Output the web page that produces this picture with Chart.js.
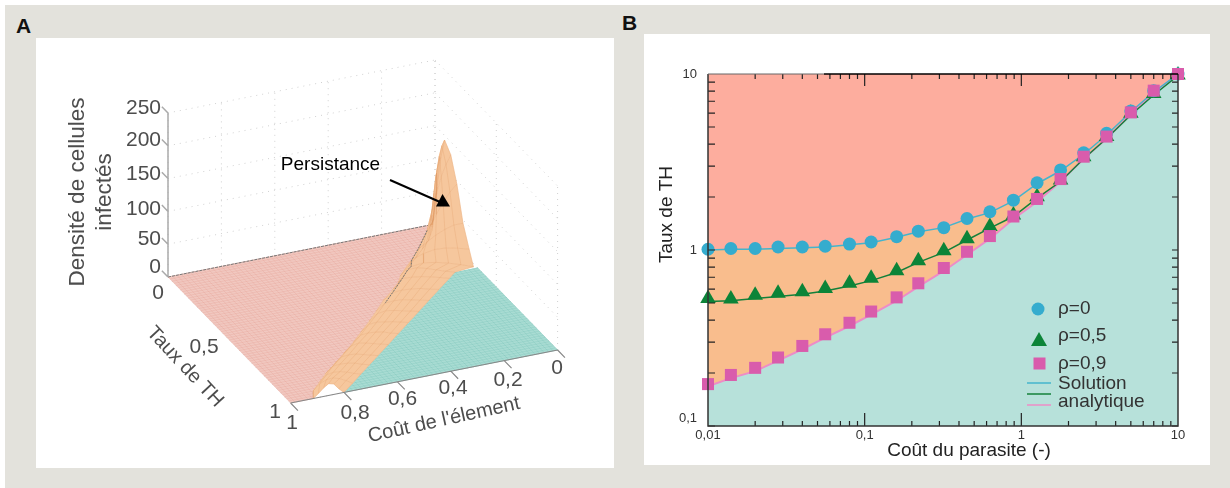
<!DOCTYPE html>
<html lang="fr">
<head>
<meta charset="utf-8">
<title>Persistance</title>
<style>
  html, body { margin: 0; padding: 0; background: #fff; overflow: hidden; }
  body { width: 1230px; height: 488px; position: relative; font-family: "Liberation Sans", sans-serif; }
  #fond { position: absolute; left: 5px; top: 5px; width: 1225px; height: 483px; background: #e3e2dc; }
  .lettre { position: absolute; font-weight: bold; font-size: 21px; color: #111; line-height: 1; }
  canvas { position: absolute; background: #fff; filter: blur(0.4px); }
</style>
</head>
<body>
<div id="fond"></div>
<div class="lettre" style="left:16px;top:15px">A</div>
<div class="lettre" style="left:622px;top:12px">B</div>
<canvas id="chartA" width="578" height="430" style="left:36px;top:38px"></canvas>
<canvas id="chartB" width="566" height="431" style="left:644px;top:34px"></canvas>
<script src="https://cdn.jsdelivr.net/npm/chart.js@4"></script>
<script>
'use strict';

// Panneau B : cout du parasite / taux de TH
const coutParasite = [0.01, 0.014, 0.02, 0.028, 0.04, 0.056, 0.08, 0.11, 0.16, 0.22, 0.32, 0.45, 0.63, 0.89, 1.26, 1.78, 2.5, 3.5, 5, 7, 10];
const rho0 = [1.01, 1.02, 1.02, 1.04, 1.04, 1.05, 1.08, 1.11, 1.19, 1.28, 1.34, 1.51, 1.65, 1.92, 2.41, 2.85, 3.57, 4.6, 6.17, 8.04, 10];
const rho05 = [0.53, 0.527, 0.553, 0.568, 0.579, 0.605, 0.647, 0.69, 0.762, 0.869, 0.99, 1.16, 1.36, 1.58, 2.01, 2.5, 3.39, 4.41, 5.98, 7.76, 9.87];
const rho09 = [0.173, 0.195, 0.214, 0.245, 0.285, 0.332, 0.386, 0.447, 0.538, 0.647, 0.79, 0.977, 1.2, 1.55, 1.95, 2.53, 3.39, 4.41, 6.05, 8.04, 10];
const analytique0 = [1.0, 1.01, 1.01, 1.02, 1.03, 1.04, 1.07, 1.1, 1.18, 1.27, 1.34, 1.5, 1.63, 1.9, 2.38, 2.82, 3.5, 4.5, 6.1, 7.9, 10];
const analytique05 = [0.51, 0.515, 0.53, 0.545, 0.56, 0.585, 0.625, 0.67, 0.745, 0.85, 0.97, 1.14, 1.33, 1.55, 1.97, 2.45, 3.3, 4.3, 5.85, 7.6, 9.8];
const analytique09 = [0.168, 0.187, 0.205, 0.235, 0.273, 0.318, 0.37, 0.43, 0.515, 0.62, 0.76, 0.94, 1.16, 1.5, 1.88, 2.45, 3.3, 4.3, 5.9, 7.85, 10];
const decadesX = [0.01, 0.1, 1, 10];
const decadesY = [0.1, 1, 10];
const mineurs = [2, 3, 4, 5, 6, 7, 8, 9];

// Panneau A : surface (une ligne par taux de TH, 7 stations de la limite rose a la limite verte)
const ticksDensite = [0, 50, 100, 150, 200, 250];
const ticksCout = [1, 0.8, 0.6, 0.4, 0.2, 0];
const ticksTaux = [0, 0.5, 1];
const surfaceTaux = [0, 0.015, 0.04, 0.07, 0.10, 0.15, 0.20, 0.25, 0.30, 0.335, 0.346, 0.38, 0.44, 0.50, 0.56, 0.62, 0.68, 0.74, 0.80, 0.85, 0.90, 0.95, 1];
const surfaceCoutRose = [0.02, 0.017, 0.03, 0.05, 0.07, 0.116, 0.164, 0.214, 0.268, 0.29, 0.296, 0.332, 0.396, 0.449, 0.504, 0.562, 0.619, 0.682, 0.745, 0.80, 0.846, 0.893, 0.915];
const surfaceCoutVert = [0.01, 0.01, 0.01, 0.01, 0.01, 0.01, 0.01, 0.01, 0.01, 0.01, 0.084, 0.121, 0.187, 0.253, 0.318, 0.384, 0.45, 0.515, 0.581, 0.636, 0.691, 0.745, 0.80];
const surfaceDensite = [
  [0, 0, 0, 0, 0, 0, 0],
  [0, 3, 7, 10, 13, 17, 20],
  [0, 14, 28, 40, 50, 58, 65],
  [0, 30, 60, 85, 100, 110, 116],
  [0, 35, 70, 100, 125, 140, 148],
  [0, 27, 55, 80, 105, 122, 135],
  [0, 25, 42, 60, 76, 90, 100],
  [0, 23, 32, 40, 46, 50, 50],
  [0, 21, 27, 30, 29, 25, 20],
  [0, 19, 21, 18, 13, 7, 0],
  [0, 18, 18, 14, 9, 4, 0],
  [0, 14, 13, 11, 8, 4, 0],
  [0, 9, 10, 9, 7, 3, 0],
  [0, 9, 10, 9, 6, 3, 0],
  [0, 9, 11, 9, 6, 3, 0],
  [0, 9, 10, 8, 6, 3, 0],
  [0, 9, 10, 9, 7, 3, 0],
  [0, 9, 11, 9, 6, 3, 0],
  [0, 9, 10, 9, 6, 3, 0],
  [0, 9, 10, 9, 7, 3, 0],
  [0, 9, 11, 10, 7, 3, 0],
  [0, 9, 13, 14, 11, 6, 0],
  [0, 6, 13, 18, 16, 7, 0]
];

const POLICE = '"Liberation Sans", sans-serif';

// projection de la vue 3D vers les coordonnees de la page
function projette(cout, taux, densite) {
  const s = 1 - cout;
  return {
    x: 168 + 267 * s + 122.6 * taux,
    y: 277 - 53 * s + 126 * taux - 0.656 * (densite || 0)
  };
}

function interp(v, xs, ys) {
  for (let i = 1; i < xs.length; i++) {
    if (v <= xs[i]) {
      const f = (v - xs[i - 1]) / (xs[i] - xs[i - 1]);
      return ys[i - 1] + f * (ys[i] - ys[i - 1]);
    }
  }
  return ys[ys.length - 1];
}

const TROU = { x: NaN, y: NaN };
const segment = (a, b) => [a, b, TROU];

function trait(data, couleur, largeur, tirets) {
  return { data, borderColor: couleur, borderWidth: largeur, borderDash: tirets || [], fill: false, showLine: true, pointRadius: 0, tension: 0 };
}

function aplat(data, couleur) {
  return { data, backgroundColor: couleur, borderColor: couleur, borderWidth: 0.6, fill: 'shape', showLine: true, pointRadius: 0, tension: 0 };
}

// quadrillage en pointilles des parois du fond
const pointilles = [];
ticksDensite.forEach(d => {
  pointilles.push(...segment(projette(1, 0, d), projette(0, 0, d)));
  pointilles.push(...segment(projette(0, 0, d), projette(0, 1, d)));
});
ticksCout.forEach(c => {
  pointilles.push(...segment(projette(c, 0, 0), projette(c, 0, 250)));
  pointilles.push(...segment(projette(c, 0, 0), projette(c, 1, 0)));
});
ticksTaux.forEach(t => {
  pointilles.push(...segment(projette(0, t, 0), projette(0, t, 250)));
  pointilles.push(...segment(projette(1, t, 0), projette(0, t, 0)));
});

// sol rose et sol vert
const tauxVert = surfaceTaux.slice(10);
const coutVert = surfaceCoutVert.slice(10);
const solRose = [projette(1, 0), ...surfaceTaux.map((t, i) => projette(surfaceCoutRose[i], t)), projette(1, 1)];
const solVert = [projette(0, 0.345), projette(0, 1), ...tauxVert.map((t, i) => projette(coutVert[coutVert.length - 1 - i], tauxVert[tauxVert.length - 1 - i]))];

// maillage fin du sol
const mailleRose = [];
const mailleVert = [];
const DIVISIONS = 60;
for (let i = 0; i <= DIVISIONS; i++) {
  const u = i / DIVISIONS;
  mailleRose.push(...segment(projette(interp(u, surfaceTaux, surfaceCoutRose), u), projette(1, u)));
  if (u >= 0.345) mailleVert.push(...segment(projette(0, u), projette(interp(u, tauxVert, coutVert), u)));
  if (u >= 0.02 && u <= 0.915) mailleRose.push(...segment(projette(u, 0), projette(u, interp(u, surfaceCoutRose.slice(2), surfaceTaux.slice(2)))));
  else if (u > 0.915) mailleRose.push(...segment(projette(u, 0), projette(u, 1)));
  if (u <= 0.8) mailleVert.push(...segment(projette(u, u < 0.084 ? 0.345 : interp(u, coutVert, tauxVert)), projette(u, 1)));
}

// bandes de la surface orange, du fond vers l'avant
function stationsDe(r) {
  return surfaceDensite[r].map((d, k) => {
    const f = k / 6;
    return projette(surfaceCoutRose[r] + f * (surfaceCoutVert[r] - surfaceCoutRose[r]), surfaceTaux[r], d);
  });
}
const bandes = [];
const mailleOrange = [];
for (let r = 0; r < surfaceTaux.length; r++) {
  const ligne = stationsDe(r);
  mailleOrange.push(...ligne, TROU);
  if (r > 0) {
    const avant = stationsDe(r - 1);
    bandes.push(aplat([...avant, ...ligne.slice().reverse()], '#f6c79d'));
    ligne.forEach((p, k) => mailleOrange.push(...segment(avant[k], p)));
  }
}
const crete = surfaceTaux.map((t, r) => stationsDe(r)[1]).slice(5, 14);

// axes de la vue 3D
const axesTraits = [...segment(projette(1, 1), projette(0, 1))];
ticksCout.forEach(c => axesTraits.push(...segment(projette(c, 1), projette(c, 1.06))));
const axeDensite = [...segment(projette(1, 0, 0), projette(1, 0, 250))];
ticksDensite.forEach(d => axeDensite.push(...segment(projette(1, 0, d), projette(1, -0.05, d))));

const textesA = {
  id: 'textesA',
  afterDatasetsDraw(chart) {
    const { ctx, scales: { x, y } } = chart;
    const ecrit = (texte, px, py, taille, angle, couleur) => {
      ctx.save();
      ctx.translate(x.getPixelForValue(px), y.getPixelForValue(py));
      ctx.rotate((angle || 0) * Math.PI / 180);
      ctx.font = taille + 'px ' + POLICE;
      ctx.fillStyle = couleur || '#4d4d4d';
      ctx.textAlign = 'center';
      ctx.textBaseline = 'middle';
      ctx.fillText(texte, 0, 0);
      ctx.restore();
    };
    // fleche
    ctx.save();
    ctx.strokeStyle = '#000';
    ctx.fillStyle = '#000';
    ctx.lineWidth = 2;
    ctx.beginPath();
    ctx.moveTo(x.getPixelForValue(390), y.getPixelForValue(180));
    ctx.lineTo(x.getPixelForValue(440), y.getPixelForValue(202));
    ctx.stroke();
    ctx.beginPath();
    ctx.moveTo(x.getPixelForValue(442.5), y.getPixelForValue(194));
    ctx.lineTo(x.getPixelForValue(436), y.getPixelForValue(206.5));
    ctx.lineTo(x.getPixelForValue(450), y.getPixelForValue(206.5));
    ctx.closePath();
    ctx.fill();
    ctx.restore();

    ecrit('Persistance', 330.5, 165, 19, 0, '#000');
    ['250', '200', '150', '100', '50', '0'].forEach((t, i) => {
      const py = [108, 140, 174, 209, 239, 267][i];
      ctx.save();
      ctx.font = '21px ' + POLICE;
      ctx.fillStyle = '#4d4d4d';
      ctx.textAlign = 'right';
      ctx.textBaseline = 'middle';
      ctx.fillText(t, x.getPixelForValue(161), y.getPixelForValue(py));
      ctx.restore();
    });
    ecrit('Densité de cellules', 78, 192, 22.5, -90);
    ecrit('infectés', 105, 192, 22.5, -90);
    ecrit('0', 158, 293, 21);
    ecrit('0,5', 204, 347, 21);
    ecrit('1', 275, 412, 21);
    ecrit('Taux de TH', 185, 367, 20, 47);
    ecrit('1', 292, 423, 21);
    ecrit('0,8', 355, 413, 21);
    ecrit('0,6', 402.5, 399, 21);
    ecrit('0,4', 453, 388, 21);
    ecrit('0,2', 508, 380, 21);
    ecrit('0', 557, 368, 21);
    ecrit("Coût de l'élement", 444, 420, 20, -12.5);
  }
};

// Chart.js peint le premier jeu de donnees au-dessus : on inverse la pile
new Chart(document.getElementById('chartA'), {
  type: 'scatter',
  data: {
    datasets: [
      trait(pointilles, '#d0d0d0', 1, [1, 5]),
      aplat(solRose, '#f1c8c0'),
      trait(mailleRose, 'rgba(226,150,138,0.4)', 0.6),
      aplat(solVert, '#a9dcd3'),
      trait(mailleVert, 'rgba(90,175,165,0.3)', 0.6),
      trait(segment(projette(1, 0), projette(0.02, 0)), '#777', 1, [3, 1]),
      ...bandes,
      trait(mailleOrange, 'rgba(222,150,95,0.4)', 0.6),
      trait(crete, '#777', 1, [2, 1]),
      trait(axesTraits, '#888', 1.2),
      trait(axeDensite, '#aaa', 1.5)
    ].reverse()
  },
  options: {
    responsive: false,
    animation: false,
    devicePixelRatio: 1,
    layout: { padding: 0 },
    plugins: { legend: { display: false }, tooltip: { enabled: false } },
    scales: {
      x: { type: 'linear', display: false, min: 36, max: 614 },
      y: { type: 'linear', display: false, min: 38, max: 468, reverse: true }
    }
  },
  plugins: [textesA]
});

function points(valeurs) {
  return valeurs.map((v, i) => ({ x: coutParasite[i], y: v }));
}

function marqueurs(valeurs, style, rayon, couleur, ordre) {
  return { data: points(valeurs), showLine: false, pointStyle: style, pointRadius: rayon, pointBackgroundColor: couleur, pointBorderWidth: 0, clip: false, order: ordre };
}

// graduations interieures, cadre et legende du panneau B
const cadreB = {
  id: 'cadreB',
  afterDatasetsDraw(chart) {
    const { ctx, chartArea: a, scales: { x, y } } = chart;
    ctx.save();
    ctx.strokeStyle = '#222';
    ctx.lineWidth = 1.2;
    ctx.beginPath();
    decadesX.slice(0, -1).forEach(d => {
      mineurs.forEach(m => {
        const px = x.getPixelForValue(d * m);
        ctx.moveTo(px, a.bottom); ctx.lineTo(px, a.bottom - 5);
        ctx.moveTo(px, a.top); ctx.lineTo(px, a.top + 5);
      });
    });
    decadesX.slice(1, -1).forEach(d => {
      const px = x.getPixelForValue(d);
      ctx.moveTo(px, a.bottom); ctx.lineTo(px, a.bottom - 13);
      ctx.moveTo(px, a.top); ctx.lineTo(px, a.top + 12);
    });
    decadesY.slice(0, -1).forEach(d => {
      [...mineurs, 1].forEach(m => {
        const py = y.getPixelForValue(d * m);
        ctx.moveTo(a.left, py); ctx.lineTo(a.left + 7, py);
        ctx.moveTo(a.right, py); ctx.lineTo(a.right - 6, py);
      });
    });
    ctx.stroke();

    // cadre : la moitie gauche du haut est plus fine dans la figure
    const milieu = x.getPixelForValue(0.055);
    ctx.strokeStyle = '#333';
    ctx.lineWidth = 1.5;
    ctx.beginPath();
    ctx.moveTo(a.left, a.top); ctx.lineTo(a.left, a.bottom); ctx.lineTo(a.right, a.bottom); ctx.lineTo(a.right, a.top);
    ctx.stroke();
    ctx.strokeStyle = '#666';
    ctx.lineWidth = 1;
    ctx.beginPath();
    ctx.moveTo(a.left, a.top); ctx.lineTo(milieu, a.top);
    ctx.stroke();
    ctx.strokeStyle = '#000';
    ctx.lineWidth = 1.5;
    ctx.beginPath();
    ctx.moveTo(milieu, a.top); ctx.lineTo(a.right, a.top);
    ctx.stroke();

    // titres d'axes places comme dans la figure (hors du centre du cadre)
    ctx.fillStyle = '#222';
    ctx.font = '19px ' + POLICE;
    ctx.textAlign = 'center';
    ctx.textBaseline = 'middle';
    ctx.fillText('Coût du parasite (-)', 969 - 644, 451 - 34);
    ctx.save();
    ctx.translate(667 - 644, 214.5 - 34);
    ctx.rotate(-Math.PI / 2);
    ctx.fillText('Taux de TH', 0, 0);
    ctx.restore();

    // legende (coordonnees du canvas)
    const ox = 1038 - 644, oy = 34;
    ctx.fillStyle = '#35acce';
    ctx.beginPath();
    ctx.arc(ox, 309 - oy, 6.5, 0, Math.PI * 2);
    ctx.fill();
    ctx.fillStyle = '#0c8438';
    ctx.beginPath();
    ctx.moveTo(ox + 1, 332 - oy); ctx.lineTo(ox + 9, 346 - oy); ctx.lineTo(ox - 7, 346 - oy);
    ctx.closePath();
    ctx.fill();
    ctx.fillStyle = '#d95cac';
    ctx.fillRect(ox - 4.5, 357.5 - oy, 12, 12);
    [['#45b4cc', 383], ['#14803a', 394], ['#ee8cc6', 405]].forEach(([c, py]) => {
      ctx.strokeStyle = c;
      ctx.lineWidth = 1.5;
      ctx.beginPath();
      ctx.moveTo(1027 - 644, py - oy); ctx.lineTo(1051 - 644, py - oy);
      ctx.stroke();
    });
    ctx.fillStyle = '#333';
    ctx.font = '19px ' + POLICE;
    ctx.textBaseline = 'middle';
    ctx.textAlign = 'left';
    [['ρ=0', 309], ['ρ=0,5', 336], ['ρ=0,9', 364], ['Solution', 384], ['analytique', 402]].forEach(([t, py]) => {
      ctx.fillText(t, 1058 - 644, py - oy);
    });
    ctx.restore();
  }
};

const virgule = v => String(v).replace('.', ',');

new Chart(document.getElementById('chartB'), {
  type: 'scatter',
  data: {
    datasets: [
      { data: points(analytique0), showLine: true, borderColor: '#45b4cc', borderWidth: 1.5, backgroundColor: '#fdad9e', fill: 'end', pointRadius: 0, tension: 0, order: 5 },
      { data: points(analytique09), showLine: true, borderColor: '#ee8cc6', borderWidth: 2, backgroundColor: '#b7e1da', fill: 'start', pointRadius: 0, tension: 0, order: 5 },
      { data: points(analytique0), showLine: true, borderWidth: 0, backgroundColor: '#f9bd8d', fill: 1, pointRadius: 0, tension: 0, order: 6 },
      { data: points(analytique05), showLine: true, borderColor: '#14803a', borderWidth: 1.5, fill: false, pointRadius: 0, tension: 0, order: 4 },
      marqueurs(rho05, 'triangle', 9, '#0c8438', 3),
      marqueurs(rho0, 'circle', 6.5, '#35acce', 2),
      marqueurs(rho09, 'rect', 8.5, '#d95cac', 1)
    ]
  },
  options: {
    responsive: false,
    animation: false,
    devicePixelRatio: 1,
    layout: { padding: { left: 0, right: 32, top: 40, bottom: 0 } },
    plugins: { legend: { display: false }, tooltip: { enabled: false } },
    scales: {
      x: {
        type: 'logarithmic',
        min: 0.01,
        max: 10,
        afterBuildTicks(scale) { scale.ticks = decadesX.map(value => ({ value, major: true })); },
        afterFit(scale) { scale.height = 39; },
        grid: { display: false, drawTicks: false, tickLength: 0 },
        border: { display: false },
        ticks: { callback: virgule, autoSkip: false, maxRotation: 0, color: '#333', padding: 2, font: { family: POLICE, size: 13 } }
      },
      y: {
        type: 'logarithmic',
        min: 0.1,
        max: 10,
        afterBuildTicks(scale) { scale.ticks = decadesY.map(value => ({ value, major: true })); },
        afterFit(scale) { scale.width = 64; },
        grid: { display: false, drawTicks: false, tickLength: 0 },
        border: { display: false },
        // 0,1 remonte d'une ligne au-dessus de l'axe, comme dans la figure
        ticks: { callback: v => (v === 0.1 ? [virgule(v), ''] : virgule(v)), autoSkip: false, color: '#333', padding: 11, font: { family: POLICE, size: 13 } }
      }
    }
  },
  plugins: [cadreB]
});
</script>
</body>
</html>
